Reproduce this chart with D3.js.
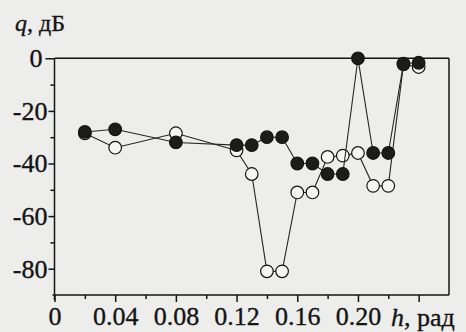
<!DOCTYPE html>
<html>
<head>
<meta charset="utf-8">
<script src="https://cdn.jsdelivr.net/npm/d3@7"></script>
<style>
  html, body { margin: 0; padding: 0; background: #ededeb; }
  svg { display: block; }
</style>
</head>
<body>
<svg id="chart" width="466" height="332"></svg>
<script>
// Step h (rad) at which the side-lobe level q was computed
const hValues = [0.02, 0.04, 0.08, 0.12, 0.13, 0.14, 0.15, 0.16, 0.17, 0.18, 0.19, 0.20, 0.21, 0.22, 0.23, 0.24];
// Filled markers
const qFilled = [-28, -27, -32, -33, -33, -30, -30, -40, -40, -44, -44, 0, -36, -36, -2, -1.7];
// Open markers
const qOpen = [-28.5, -34, -28.5, -35, -44, -81, -81, -51, -51, -37.5, -37, -36, -48.5, -48.5, -2.3, -3.3];

const xMajorTicks = [0, 0.04, 0.08, 0.12, 0.16, 0.20, 0.24];
const xLabelTicks = [0, 0.04, 0.08, 0.12, 0.16, 0.20];
const xMinorTicks = [0.02, 0.06, 0.10, 0.14, 0.18, 0.22];
const yMajorTicks = [-20, -40, -60, -80];
const yZeroTick = [0];
const yMinorTicks = [-10, -30, -50, -70];

const ink = "#141414";
const serif = '"Liberation Serif"';
const svg = d3.select("#chart");

const x = d3.scaleLinear().domain([0, 0.26]).range([54.5, 449]);
const y = d3.scaleLinear().domain([-90, 0]).range([295, 58.3]);

// Frame: left axis, bottom axis, top and right borders
const frame = svg.append("g").attr("stroke", ink).attr("stroke-width", 1.5).attr("fill", "none");
frame.append("line").attr("x1", x(0)).attr("x2", x(0)).attr("y1", y(0)).attr("y2", y(-90) + 5);
frame.append("line").attr("x1", x(0) - 2).attr("x2", x(0.26)).attr("y1", y(-90)).attr("y2", y(-90));
frame.append("line").attr("x1", x(0)).attr("x2", x(0.26)).attr("y1", y(0)).attr("y2", y(0));
frame.append("line").attr("x1", x(0.26)).attr("x2", x(0.26)).attr("y1", y(0)).attr("y2", y(-90));

// Slightly heavier glyphs, like printed type
function inkText(sel, size) {
  sel.attr("fill", ink).attr("stroke", ink).attr("stroke-width", 0.35)
    .style("font-family", serif).style("font-size", size);
}

function styleAxis(g) {
  g.select(".domain").remove();
  g.selectAll(".tick line").attr("stroke", ink).attr("stroke-width", 1.5);
  g.selectAll(".tick text").call(inkText, "26px");
}

const yFormat = d => d === 0 ? "0" : "-" + Math.abs(d);

// Bottom axis
svg.append("g").attr("transform", `translate(0,${y(-90)})`)
  .call(d3.axisBottom(x).tickValues(xMinorTicks).tickSize(4).tickFormat(""))
  .call(styleAxis);
svg.append("g").attr("transform", `translate(0,${y(-90)})`)
  .call(d3.axisBottom(x).tickValues(xMajorTicks).tickSize(7).tickPadding(5)
    .tickFormat(d => xLabelTicks.includes(d) ? (d === 0 ? "0" : d.toFixed(2)) : ""))
  .call(styleAxis);

// Left axis
svg.append("g").attr("transform", `translate(${x(0)},0)`)
  .call(d3.axisLeft(y).tickValues(yMinorTicks).tickSize(4).tickFormat(""))
  .call(styleAxis);
svg.append("g").attr("transform", `translate(${x(0)},0)`)
  .call(d3.axisLeft(y).tickValues(yMajorTicks).tickSize(6).tickPadding(1).tickFormat(yFormat))
  .call(styleAxis);
svg.append("g").attr("transform", `translate(${x(0)},0)`)
  .call(d3.axisLeft(y).tickValues(yZeroTick).tickSize(9).tickPadding(3).tickFormat(yFormat))
  .call(styleAxis);

// Axis titles
const yTitle = svg.append("text").attr("x", 15).attr("y", 31).call(inkText, "24px");
yTitle.append("tspan").attr("font-style", "italic").text("q");
yTitle.append("tspan").text(", дБ");

const xTitle = svg.append("text").attr("x", 391).attr("y", 325.5).call(inkText, "26px");
xTitle.append("tspan").attr("font-style", "italic").text("h");
xTitle.append("tspan").text(", рад");

const line = d3.line().x(d => x(d.h)).y(d => y(d.q));
const openData = hValues.map((h, i) => ({ h, q: qOpen[i] }));
const filledData = hValues.map((h, i) => ({ h, q: qFilled[i] }));

function drawSeries(data, filled) {
  svg.append("path").datum(data).attr("d", line)
    .attr("fill", "none").attr("stroke", "#262626").attr("stroke-width", 1.1);
  svg.append("g").selectAll("circle").data(data).join("circle")
    .attr("cx", d => x(d.h)).attr("cy", d => y(d.q)).attr("r", 6.3)
    .attr("fill", filled ? "#1c1c1c" : "#f6f6f4")
    .attr("stroke", ink).attr("stroke-width", 1.2);
}

drawSeries(openData, false);
drawSeries(filledData, true);
</script>
</body>
</html>
